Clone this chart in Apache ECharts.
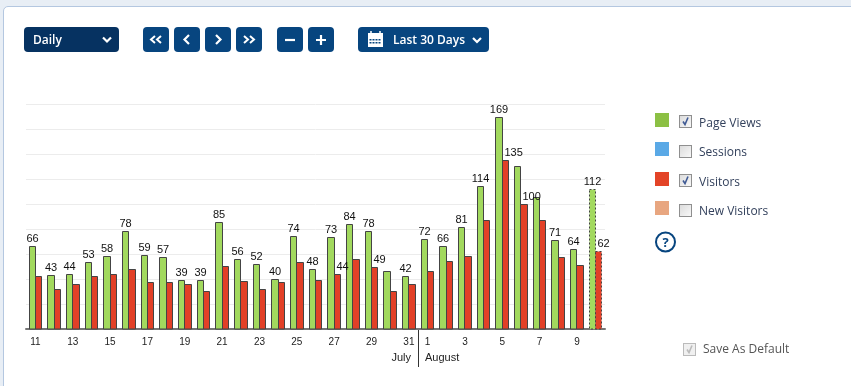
<!DOCTYPE html>
<html>
<head>
<meta charset="utf-8">
<script src="https://cdn.jsdelivr.net/npm/echarts@6/dist/echarts.min.js"></script>
<style>
html, body { margin: 0; padding: 0; width: 851px; height: 386px; overflow: hidden; background: #e8eef5; }
body { font-family: "Open Sans", sans-serif; }
#panel { position: absolute; left: 3px; top: 6px; width: 860px; height: 400px; background: #fff; border: 1px solid #b4c7e0; border-radius: 5px; }
#main { position: absolute; left: 0; top: 0; width: 851px; height: 386px; }
.btn { position: absolute; top: 27px; height: 25px; background: #07457f; border-radius: 4px; color: #fff; font-size: 12px; font-weight: 600; line-height: 25px; }
.btn svg { position: absolute; left: 0; top: 0; }
.swatch { position: absolute; left: 655px; width: 14px; height: 14px; }
.check { position: absolute; width: 11px; height: 11px; border: 1px solid #8f8f8f; background: linear-gradient(135deg, #dcdcdc, #f8f8f8); }
.check svg { position: absolute; left: 0; top: 0; }
.lbl { position: absolute; left: 699px; font-size: 12px; line-height: 16px; color: #33415c; }
</style>
</head>
<body>
<div id="panel"></div>
<div id="main"></div>

<div class="btn" style="left:24px;width:95px;background:#063261"><span style="position:absolute;left:9px">Daily</span>
  <svg width="95" height="25"><path d="M79 10.5l4 4 4-4" fill="none" stroke="#fff" stroke-width="2.2"/></svg></div>
<div class="btn" style="left:143px;width:26px"><svg width="26" height="25"><path d="M12 9l-4 3.5 4 3.5M18 9l-4 3.5 4 3.5" fill="none" stroke="#fff" stroke-width="2"/></svg></div>
<div class="btn" style="left:174px;width:26px"><svg width="26" height="25"><path d="M15 8l-4.500 4.500 4.500 4.500" fill="none" stroke="#fff" stroke-width="2.200"/></svg></div>
<div class="btn" style="left:205px;width:26px"><svg width="26" height="25"><path d="M11 8l4.500 4.500-4.500 4.500" fill="none" stroke="#fff" stroke-width="2.200"/></svg></div>
<div class="btn" style="left:236px;width:26px"><svg width="26" height="25"><path d="M8 9l4 3.500-4 3.500M14 9l4 3.500-4 3.500" fill="none" stroke="#fff" stroke-width="2"/></svg></div>
<div class="btn" style="left:277px;width:26px"><svg width="26" height="25"><path d="M8 13h10" stroke="#fff" stroke-width="2.200"/></svg></div>
<div class="btn" style="left:308px;width:26px"><svg width="26" height="25"><path d="M8 13h10M13 8v10" stroke="#fff" stroke-width="2.200"/></svg></div>
<div class="btn" style="left:358px;width:131px"><span style="position:absolute;left:35px;white-space:nowrap">Last 30 Days</span>
  <svg width="131" height="25">
    <path d="M10 6h15v14h-15z" fill="#fff"/>
    <path d="M13 4v3M22 4v3" stroke="#fff" stroke-width="1.500"/>
    <path d="M11.500 12h2v1.500h-2zM14.500 12h2v1.500h-2zM17.500 12h2v1.500h-2zM20.500 12h2v1.500h-2zM11.500 15h2v1.500h-2zM14.500 15h2v1.500h-2zM17.500 15h2v1.500h-2zM20.500 15h2v1.500h-2z" fill="#07457f"/>
    <path d="M115 11l4 4 4-4" fill="none" stroke="#fff" stroke-width="2.200"/>
  </svg></div>

<div class="swatch" style="top:113px;background:#8cc044"></div>
<div class="swatch" style="top:142px;background:#5aa9e6"></div>
<div class="swatch" style="top:172px;background:#e34427"></div>
<div class="swatch" style="top:201px;background:#e8a680"></div>

<div class="check" style="left:679px;top:115px"><svg width="11" height="11"><path d="M3 5.500l2 3 3-7" fill="none" stroke="#3f5a94" stroke-width="1.600"/></svg></div>
<div class="check" style="left:679px;top:145px"></div>
<div class="check" style="left:679px;top:174px"><svg width="11" height="11"><path d="M3 5.500l2 3 3-7" fill="none" stroke="#3f5a94" stroke-width="1.600"/></svg></div>
<div class="check" style="left:679px;top:204px"></div>

<div class="lbl" style="top:115px">Page Views</div>
<div class="lbl" style="top:144px">Sessions</div>
<div class="lbl" style="top:174px">Visitors</div>
<div class="lbl" style="top:203px">New Visitors</div>

<svg style="position:absolute;left:654px;top:230px" width="24" height="24">
  <circle cx="11.500" cy="12" r="9.500" fill="none" stroke="#07457f" stroke-width="2"/>
  <text x="11.500" y="16.500" text-anchor="middle" font-family="Open Sans" font-weight="700" font-size="13" fill="#07457f">?</text>
</svg>

<div class="check" style="left:683px;top:343px;border-color:#bbb;background:#f0f0f0"><svg width="11" height="11"><path d="M3 5.500l2 3 3-7" fill="none" stroke="#bbb" stroke-width="1.600"/></svg></div>
<div class="lbl" style="left:703px;top:341px;color:#555">Save As Default</div>

<script>
var days = [11,12,13,14,15,16,17,18,19,20,21,22,23,24,25,26,27,28,29,30,31,1,2,3,4,5,6,7,8,9,10];
var pageViews = [66,43,44,53,58,78,59,57,39,39,85,56,52,40,74,48,73,84,78,46,42,72,66,81,114,169,130,105,71,64,112];
var visitors = [42,32,36,42,44,48,37,37,36,30,50,38,32,37,53,39,44,56,49,30,36,46,54,58,87,135,100,87,57,51,62];
// which days carry a number, the rest were left bare on the original
var unlabelledViews = [30,6,7];
var labelledVisitors = [27,29,5,6,10];
var lastDayIndex = days.length - 1;
var julyEndIndex = days.indexOf(31);
var halfPair = 6.33;

var chart = echarts.init(document.getElementById('main'));

// bars snap to whole pixels so the 1px outline stays sharp
function barRenderer(color, side, labelDays, labelWhen, labelAlign) {
    return function (params, api) {
        var i = api.value(0);
        var top = api.coord([i, api.value(1)]);
        var base = api.coord([i, 0]);
        var mid = Math.floor(top[0]) + 0.5;
        var edge = Math.floor(top[0] + side * halfPair) + 0.5;
        var x = Math.min(mid, edge);
        var w = Math.abs(edge - mid);
        var y = Math.floor(top[1]) + 0.5;
        var kids = [{
            type: 'rect',
            shape: { x: x, y: y, width: w, height: Math.round(base[1]) - y },
            style: {
                fill: color,
                stroke: '#444',
                lineWidth: 1,
                lineDash: i === lastDayIndex ? [2, 2] : null
            }
        }];
        if ((labelDays.indexOf(days[i]) >= 0) === labelWhen) {
            kids.push({
                type: 'text',
                z2: 10,
                x: labelAlign === 'center' ? x + w / 2 : x + 2,
                y: y - 2,
                style: {
                    text: String(api.value(1)),
                    align: labelAlign,
                    verticalAlign: 'bottom',
                    fill: '#111',
                    font: '11px "Liberation Sans"'
                }
            });
        }
        return { type: 'group', children: kids };
    };
}

function pairs(values) {
    return values.map(function (v, i) { return [i, v]; });
}

var option = {
    animation: false,
    backgroundColor: 'transparent',
    grid: { left: 26, top: 104, width: 579, height: 225 },
    xAxis: {
        type: 'category',
        data: days,
        axisLine: { lineStyle: { color: '#777', width: 2 } },
        axisTick: { show: false },
        axisLabel: {
            interval: function (i, v) { return Number(v) % 2 === 1; },
            margin: 8,
            color: '#222',
            fontFamily: 'Liberation Sans',
            fontSize: 10
        }
    },
    yAxis: {
        type: 'value',
        min: 0,
        max: 180,
        interval: 20,
        axisLine: { show: false },
        axisTick: { show: false },
        axisLabel: { show: false },
        splitLine: { lineStyle: { color: '#ececec', width: 1 } }
    },
    series: [
        {
            name: 'Page Views',
            type: 'custom',
            z: 2,
            encode: { x: 0, y: 1 },
            clip: false,
            renderItem: barRenderer('#a2d95e', -1, unlabelledViews, false, 'center'),
            data: pairs(pageViews)
        },
        {
            name: 'Visitors',
            type: 'custom',
            z: 3,
            encode: { x: 0, y: 1 },
            clip: false,
            renderItem: barRenderer('#e24027', 1, labelledVisitors, true, 'left'),
            data: pairs(visitors)
        }
    ]
};
chart.setOption(option);

// month divider sits between the last July day and the first August day
var x1 = chart.convertToPixel({ xAxisIndex: 0 }, julyEndIndex);
var x2 = chart.convertToPixel({ xAxisIndex: 0 }, julyEndIndex + 1);
var divX = Math.round((x1 + x2) / 2);
chart.setOption({
    graphic: [
        { type: 'line', shape: { x1: divX + 0.5, y1: 329, x2: divX + 0.5, y2: 367 }, style: { stroke: '#333', lineWidth: 1 } },
        { type: 'text', x: divX - 7, y: 358, style: { text: 'July', align: 'right', verticalAlign: 'middle', fill: '#222', font: '11px "Liberation Sans"' } },
        { type: 'text', x: divX + 7, y: 358, style: { text: 'August', align: 'left', verticalAlign: 'middle', fill: '#222', font: '11px "Liberation Sans"' } }
    ]
});

window.addEventListener('resize', function () { chart.resize(); });
</script>
</body>
</html>
